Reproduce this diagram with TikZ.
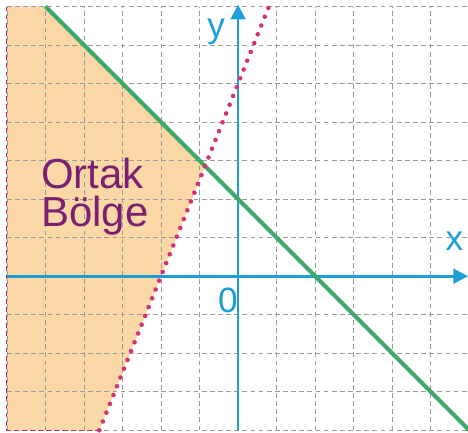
\documentclass[tikz,border=0pt]{standalone}
\usepackage{fontspec}
\setmainfont{Liberation Sans}
\usetikzlibrary{arrows.meta}
\definecolor{RegionFill}{HTML}{FBD8A6}
\definecolor{AxisBlue}{HTML}{1E9ED9}
\definecolor{LineGreen}{HTML}{3BAA6B}
\definecolor{DotPink}{HTML}{D42F78}
\definecolor{LabelPurple}{HTML}{7B1F72}
\definecolor{GridGray}{HTML}{9A9A9A}

\begin{document}
\begin{tikzpicture}[gridline/.style={GridGray,line width=0.5pt,dash pattern=on 3.5pt off 2.5pt},
    axisline/.style={AxisBlue,line width=2pt,-{Triangle[length=3.8mm,width=3.8mm]}},
    every node/.style={inner sep=0pt}]
    \useasboundingbox (-6.18,-4.05) rectangle (5.97,7.17);
    \coordinate (bl) at (-6,-4);
    \coordinate (tl) at (-6,7);
    \coordinate (gtop) at (-5,7);
    \coordinate (gbot) at (6,-4);
    \coordinate (ptop) at (0.8,7);
    \coordinate (pbot) at (-3.6,-4);
    \coordinate (meet) at (-0.857,2.857);
    \coordinate (xstart) at (-6,0);
    \coordinate (xend) at (5.97,0);
    \coordinate (ystart) at (0,-4);
    \coordinate (yend) at (0,7.05);
    \fill[RegionFill] (bl) -- (pbot) -- (meet) -- (gtop) -- (tl) -- cycle;
    \draw[gridline] (-6,-4) grid (6,7);
    \draw[DotPink!70!LabelPurple,line width=0.8pt,dash pattern=on 3.5pt off 2.5pt] (tl) -- (bl) -- (pbot);
    \draw[axisline] (xstart) -- (xend);
    \draw[axisline] (ystart) -- (yend);
    \draw[LineGreen,line width=3pt] (gtop) -- (gbot);
    \draw[DotPink,line width=3.4pt,line cap=round,dash pattern=on 0pt off 7pt] (pbot) -- (ptop);
    \node[LabelPurple,font=\fontsize{31}{36}\selectfont,anchor=base west] (ortak) at (-5.12,2.28) {Ortak};
    \node[LabelPurple,font=\fontsize{31}{36}\selectfont,anchor=base west] (bolge) at (-5.12,1.28) {Bölge};
    \node[AxisBlue,font=\fontsize{26}{30}\selectfont] (ylab) at (-0.57,6.35) {y};
    \node[AxisBlue,font=\fontsize{26}{30}\selectfont] (xlab) at (5.62,0.9) {x};
    \node[AxisBlue,font=\fontsize{26}{30}\selectfont] (zero) at (-0.26,-0.62) {0};
\end{tikzpicture}
\end{document}
